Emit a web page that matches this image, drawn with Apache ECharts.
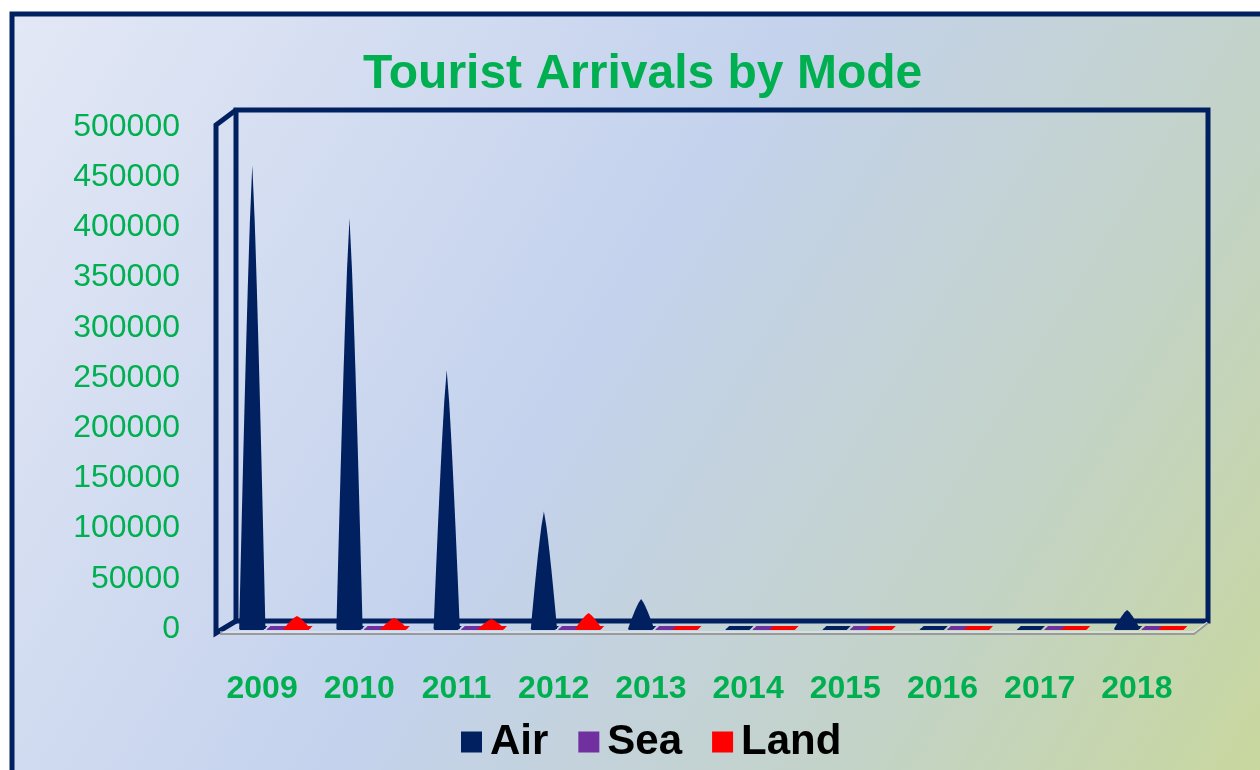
<!DOCTYPE html>
<html>
<head>
<meta charset="utf-8">
<script src="https://cdn.jsdelivr.net/npm/echarts@6/dist/echarts.min.js"></script>
<style>
  html, body { margin: 0; padding: 0; background: #fff; }
  #chart { width: 1260px; height: 770px; }
</style>
</head>
<body>
<div id="chart"></div>
<script>
var years = ['2009', '2010', '2011', '2012', '2013', '2014', '2015', '2016', '2017', '2018'];
var airVals = [462000, 409000, 258000, 117000, 30000, 1500, 1200, 3000, 2500, 19000];
var seaVals = [1500, 1500, 1500, 1500, 1500, 1000, 1000, 1000, 1000, 1500];
var landVals = [13000, 11000, 10000, 16000, 1500, 1000, 1000, 1000, 1000, 1000];
var yTicks = [0, 50000, 100000, 150000, 200000, 250000, 300000, 350000, 400000, 450000, 500000];

var NAVY = '#002060';
var GREEN = '#00b050';

// cone drawn from the axis scale: base at value 0, tip at the value
function cone(offset, widthFrac, color) {
  return function (params, api) {
    var i = api.value(0);
    var v = api.value(1);
    var base = api.coord([i, 0]);
    var tip = api.coord([i, v]);
    var band = api.size([1, 0])[0];
    var w = band * widthFrac;
    var cx = base[0] + offset * band;
    var by = base[1];
    var h = by - tip[1];
    // slightly convex sides, like a cone seen in perspective
    var left = [], right = [];
    for (var k = 0; k <= 8; k++) {
      var t = k / 8;
      var half = (w / 2) * Math.pow(1 - t, 0.8);
      left.push([cx - half, by - h * t]);
      right.unshift([cx + half, by - h * t]);
    }
    return {
      type: 'group',
      children: [
        {
          type: 'polygon',
          shape: { points: [[cx - w / 2, by + 1], [cx + w / 2 - 2, by + 1], [cx + w / 2 + 2, by - 3], [cx - w / 2 + 4, by - 3]] },
          style: { fill: color }
        },
        {
          type: 'polygon',
          shape: { points: left.concat(right) },
          style: { fill: color }
        }
      ]
    };
  };
}

function pairs(arr) {
  return arr.map(function (v, i) { return [i, v]; });
}

var chart = echarts.init(document.getElementById('chart'));

var option = {
  backgroundColor: '#ffffff',
  animation: false,
  title: {
    text: 'Tourist Arrivals by Mode',
    left: 358,
    top: 46,
    textStyle: { color: GREEN, fontSize: 48, fontWeight: 'bold', fontFamily: 'Liberation Sans, Arial, sans-serif' }
  },
  legend: {
    left: 456,
    top: 716,
    itemWidth: 21,
    itemHeight: 21,
    itemGap: 30,
    icon: 'rect',
    data: ['Air', 'Sea', 'Land'],
    textStyle: { color: '#000', fontSize: 42, fontWeight: 'bold', fontFamily: 'Liberation Sans, Arial, sans-serif', padding: [0, 0, 0, 3] }
  },
  grid: { left: 228, right: 60, top: 127, bottom: 141 },
  xAxis: {
    type: 'category',
    data: years,
    axisLine: { show: false },
    axisTick: { show: false },
    axisLabel: {
      color: GREEN,
      fontSize: 32,
      fontWeight: 'bold',
      fontFamily: 'Liberation Sans, Arial, sans-serif',
      margin: 44,
      padding: [0, 29, 0, 0]
    }
  },
  yAxis: {
    type: 'value',
    min: 0,
    max: 500000,
    interval: 50000,
    splitLine: { show: false },
    axisLine: { show: false },
    axisTick: { show: false },
    axisLabel: {
      color: GREEN,
      fontSize: 32,
      fontFamily: 'Liberation Sans, Arial, sans-serif',
      margin: 48,
      formatter: function (v) { return yTicks.indexOf(v) >= 0 ? String(v) : ''; }
    }
  },
  graphic: [
    {
      type: 'rect', z: -10,
      shape: { x: 12, y: 14, width: 1270, height: 780 },
      style: {
        fill: new echarts.graphic.LinearGradient(0, 0, 1, 1, [
          { offset: 0, color: '#e3e8f5' },
          { offset: 0.45, color: '#c4d2ed' },
          { offset: 0.75, color: '#c3d3c6' },
          { offset: 1, color: '#c9d89a' }
        ]),
        stroke: NAVY, lineWidth: 5
      }
    },
    // back wall
    { type: 'rect', z: 0, shape: { x: 236, y: 110, width: 972, height: 511 }, style: { fill: 'none', stroke: NAVY, lineWidth: 5 } },
    // left side wall
    { type: 'polyline', z: 0, shape: { points: [[236, 110], [216, 125], [216, 633], [236, 621]] }, style: { fill: 'none', stroke: NAVY, lineWidth: 5 } },
    // floor front edge
    { type: 'polyline', z: 0, shape: { points: [[220, 634], [1194, 634], [1208, 623]] }, style: { fill: 'none', stroke: '#9a9a9a', lineWidth: 2 } },
    { type: 'polyline', z: 0, shape: { points: [[220, 632], [1194, 632], [1207, 622]] }, style: { fill: 'none', stroke: '#e8ecf4', lineWidth: 1 } }
  ],
  series: [
    { name: 'Air', type: 'custom', itemStyle: { color: NAVY }, renderItem: cone(-0.25, 0.27, NAVY), data: pairs(airVals), z: 3 },
    { name: 'Sea', type: 'custom', itemStyle: { color: '#7030a0' }, renderItem: cone(0, 0.21, '#7030a0'), data: pairs(seaVals), z: 3 },
    { name: 'Land', type: 'custom', itemStyle: { color: '#ff0000' }, renderItem: cone(0.21, 0.28, '#ff0000'), data: pairs(landVals), z: 3 }
  ]
};

chart.setOption(option);
</script>
</body>
</html>
